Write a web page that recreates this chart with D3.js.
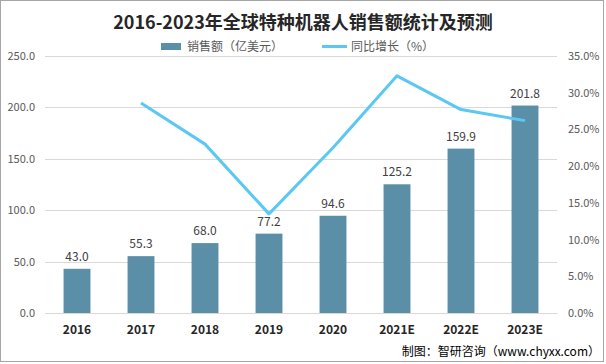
<!DOCTYPE html>
<html><head><meta charset="utf-8">
<script src="https://cdn.jsdelivr.net/npm/d3@7"></script>
<style>body{margin:0;background:#fff;}svg{display:block;font-family:"Microsoft YaHei","Noto Sans CJK SC",sans-serif;}</style>
</head><body><svg id="c" width="606" height="364"></svg>
<script>
const categories = ["2016","2017","2018","2019","2020","2021E","2022E","2023E"];
const sales = [43.0,55.3,68.0,77.2,94.6,125.2,159.9,201.8];
const growth = [null,28.6,23.0,13.5,22.5,32.3,27.7,26.2];
const leftTicks = [0,50,100,150,200,250];
const rightTicks = [0,5,10,15,20,25,30,35];

const svg = d3.select("#c");
const W=606,H=364;
const m={l:45,r:49,t:56,b:51};
svg.append("rect").attr("x",0.5).attr("y",0.5).attr("width",W-3).attr("height",H-3).attr("fill","#fff").attr("stroke","#a6a6a6");

const x=d3.scaleBand().domain(categories).range([m.l,W-m.r]).paddingInner(0.58).paddingOuter(0.29);
const y=d3.scaleLinear().domain([0,250]).range([H-m.b,m.t]);
const y2=d3.scaleLinear().domain([0,35]).range([H-m.b,m.t]);

// grid
svg.append("g").selectAll("line").data(leftTicks).join("line")
 .attr("x1",m.l).attr("x2",W-m.r).attr("y1",d=>Math.round(y(d))+0.5).attr("y2",d=>Math.round(y(d))+0.5)
 .attr("stroke","#d9d9d9");

const fnt='"Microsoft YaHei","Noto Sans CJK SC",sans-serif';
const ga=svg.append("g").attr("transform",`translate(${m.l},0)`)
 .call(d3.axisLeft(y).tickValues(leftTicks).tickFormat(d3.format(".1f")).tickSize(0).tickPadding(10));
ga.select(".domain").remove();
ga.selectAll("text").attr("fill","#595959").style("font-size","11px").style("font-family",fnt);

const gr=svg.append("g").attr("transform",`translate(${W-m.r},0)`)
 .call(d3.axisRight(y2).tickValues(rightTicks).tickFormat(d=>d.toFixed(1)+"%").tickSize(0).tickPadding(11));
gr.select(".domain").remove();
gr.selectAll("text").attr("fill","#595959").style("font-size","11px").style("font-family",fnt);

// bars
svg.append("g").selectAll("rect").data(sales).join("rect")
 .attr("x",(d,i)=>x(categories[i])).attr("width",x.bandwidth())
 .attr("y",d=>y(d)).attr("height",d=>y(0)-y(d)).attr("fill","#5b8fa8");

svg.append("g").selectAll("text").data(sales).join("text")
 .attr("x",(d,i)=>x(categories[i])+x.bandwidth()/2).attr("y",d=>y(d)-8)
 .attr("text-anchor","middle").attr("fill","#404040").style("font-size","12px").text(d=>d.toFixed(1));

// x axis
const gx=svg.append("g").attr("transform",`translate(0,${H-m.b})`)
 .call(d3.axisBottom(x).tickSize(0).tickPadding(12));
gx.select(".domain").attr("stroke","#d9d9d9");
gx.selectAll("text").attr("fill","#262626").style("font-size","12px").style("font-weight","bold").style("font-family",fnt);

// line
const line=d3.line().defined(d=>d!=null).x((d,i)=>x(categories[i])+x.bandwidth()/2).y(d=>y2(d));
svg.append("path").datum(growth).attr("d",line).attr("fill","none").attr("stroke","#5ac8f2").attr("stroke-width",3).attr("stroke-linejoin","round");

// title
svg.append("text").attr("x",303).attr("y",29).attr("text-anchor","middle").attr("fill","#262626")
 .style("font-size","18px").style("font-weight","bold").text("2016-2023年全球特种机器人销售额统计及预测");

// legend
svg.append("rect").attr("x",161).attr("y",43).attr("width",20).attr("height",7).attr("fill","#5b8fa8");
svg.append("text").attr("x",187).attr("y",51).attr("fill","#595959").style("font-size","12px").text("销售额（亿美元）");
svg.append("line").attr("x1",322).attr("x2",347).attr("y1",46.5).attr("y2",46.5).attr("stroke","#5ac8f2").attr("stroke-width",3);
svg.append("text").attr("x",351).attr("y",51).attr("fill","#595959").style("font-size","12px").text("同比增长（%）");

// source
svg.append("text").attr("x",600).attr("y",356).attr("text-anchor","end").attr("fill","#000").style("font-size","12px").text("制图：智研咨询（www.chyxx.com）");
</script></body></html>
